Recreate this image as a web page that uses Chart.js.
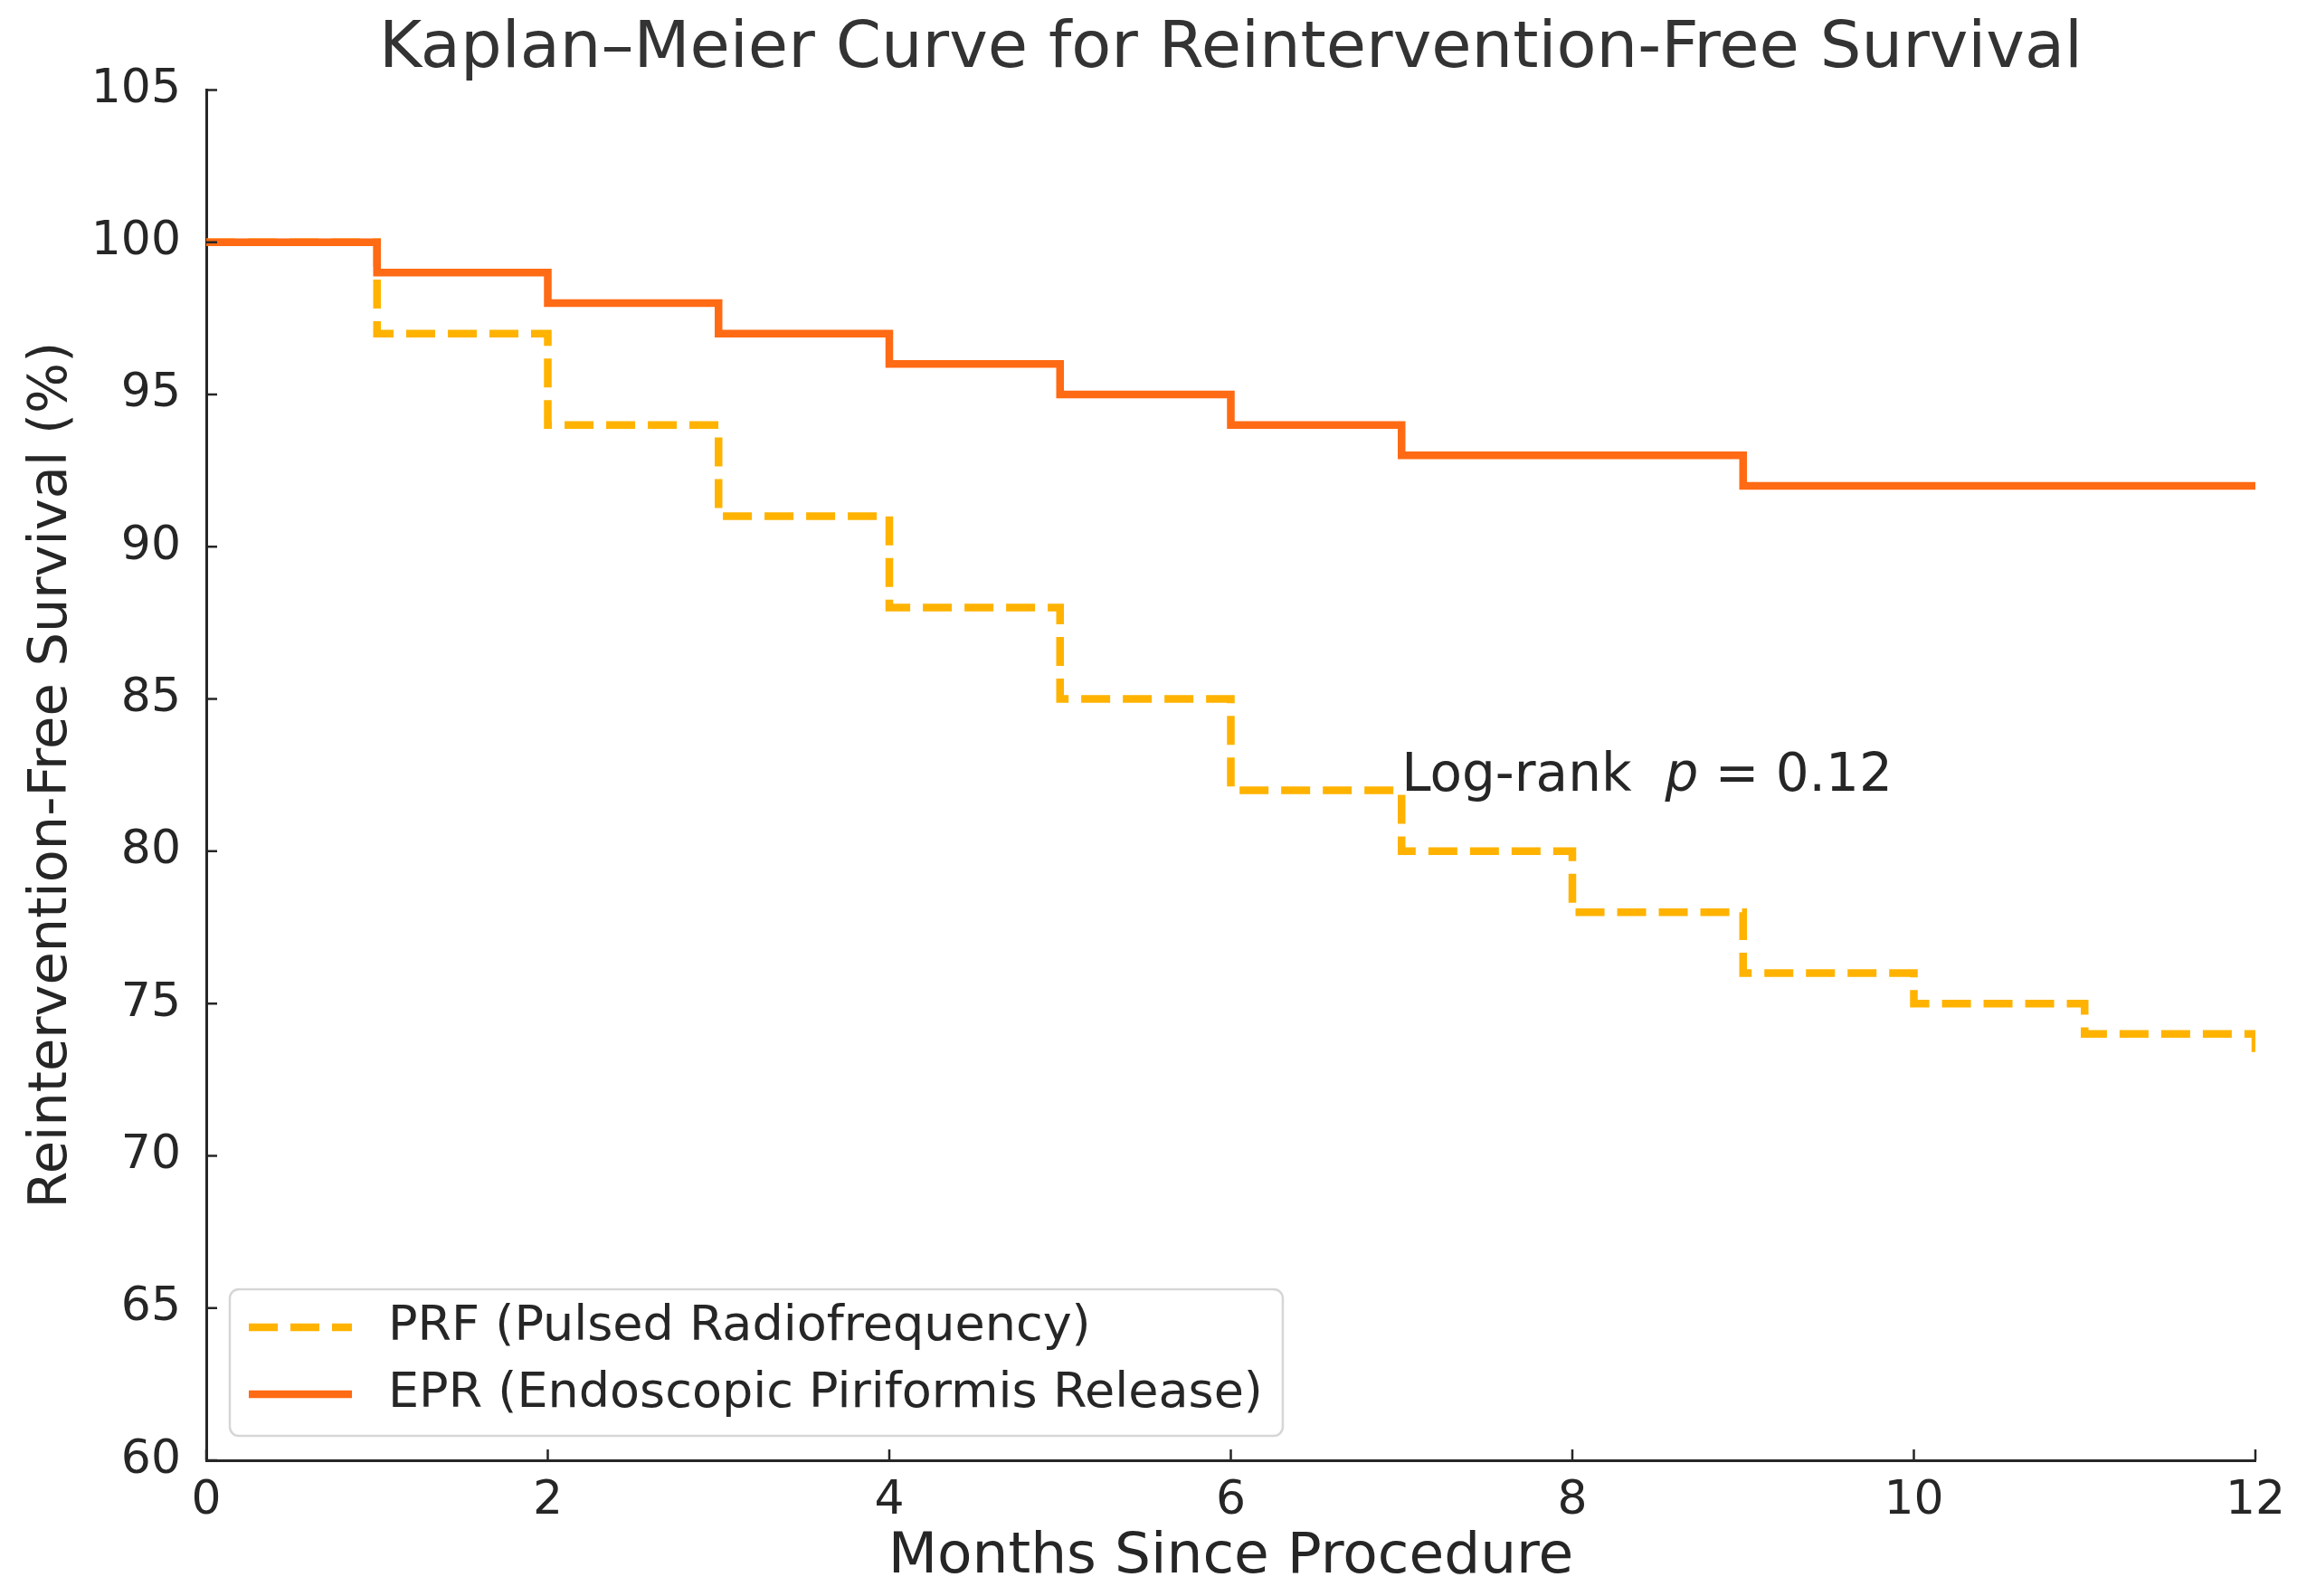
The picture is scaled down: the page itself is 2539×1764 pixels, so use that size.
<!DOCTYPE html>
<html lang="en">
<head>
    <meta charset="UTF-8">
    <title>Kaplan–Meier Curve for Reintervention-Free Survival</title>
    <style>
        html, body {
            margin: 0;
            padding: 0;
            background-color: #ffffff;
        }
        #kmChart {
            display: block;
        }
    </style>
</head>
<body>
    <canvas id="kmChart" width="2539" height="1764"></canvas>
    <script src="https://cdn.jsdelivr.net/npm/chart.js"></script>
    <script>
        // values
        const months = [0, 1, 2, 3, 4, 5, 6, 7, 8, 9, 10, 11, 12];
        const prfSurvival = [100, 97, 94, 91, 88, 85, 82, 80, 78, 76, 75, 74, 73];
        const eprSurvival = [100, 99, 98, 97, 96, 95, 94, 93, 93, 92, 92, 92, 92];
        const xTickValues = [0, 2, 4, 6, 8, 10, 12];
        const yTickValues = [60, 65, 70, 75, 80, 85, 90, 95, 100, 105];
        const prfLabel = 'PRF (Pulsed Radiofrequency)';
        const eprLabel = 'EPR (Endoscopic Piriformis Release)';
        const logRankMonth = 7;
        const logRankSurvival = 82;
        const logRankP = '0.12';

        const FONT = 'DejaVu Sans';
        const TEXT = '#262626';
        const PRF_COLOR = '#ffb300';
        const EPR_COLOR = '#ff6a14';

        function toPoints(ys) {
            return months.map((m, i) => ({ x: m, y: ys[i] }));
        }

        // matplotlib style ticks pointing into the plot
        const inwardTicks = {
            id: 'inwardTicks',
            afterDatasetsDraw(chart) {
                const { ctx, chartArea, scales } = chart;
                ctx.save();
                ctx.strokeStyle = TEXT;
                ctx.lineWidth = 2.5;
                ctx.beginPath();
                xTickValues.forEach(v => {
                    const px = scales.x.getPixelForValue(v);
                    ctx.moveTo(px, chartArea.bottom);
                    ctx.lineTo(px, chartArea.bottom - 12);
                });
                yTickValues.forEach(v => {
                    const py = scales.y.getPixelForValue(v);
                    ctx.moveTo(chartArea.left, py);
                    ctx.lineTo(chartArea.left + 12, py);
                });
                ctx.stroke();
                ctx.restore();
            }
        };

        const logRankText = {
            id: 'logRankText',
            afterDatasetsDraw(chart) {
                const { ctx, scales } = chart;
                let x = scales.x.getPixelForValue(logRankMonth);
                const y = scales.y.getPixelForValue(logRankSurvival);
                ctx.save();
                ctx.fillStyle = TEXT;
                ctx.textBaseline = 'alphabetic';
                ctx.textAlign = 'left';
                ctx.font = `58px "${FONT}"`;
                const first = 'Log-rank  ';
                ctx.fillText(first, x, y);
                x += ctx.measureText(first).width;
                ctx.font = `oblique 58px "${FONT}"`;
                ctx.fillText('p', x, y);
                x += ctx.measureText('p').width;
                ctx.font = `58px "${FONT}"`;
                ctx.fillText(' = ' + logRankP, x, y);
                ctx.restore();
            }
        };

        // legend box in the lower left corner of the axes
        const cornerLegend = {
            id: 'cornerLegend',
            afterDraw(chart) {
                const { ctx, chartArea } = chart;
                const items = [
                    { label: prfLabel, color: PRF_COLOR, dash: [32, 14] },
                    { label: eprLabel, color: EPR_COLOR, dash: [] }
                ];
                ctx.save();
                ctx.font = `54px "${FONT}"`;
                const textW = Math.max(...items.map(it => ctx.measureText(it.label).width));
                const left = chartArea.left + 26;
                const width = 175 + textW + 22;
                const height = 162;
                const top = chartArea.bottom - 27 - height;

                ctx.beginPath();
                ctx.roundRect(left, top, width, height, 10);
                ctx.fillStyle = 'rgba(255, 255, 255, 0.8)';
                ctx.fill();
                ctx.strokeStyle = '#d6d6d6';
                ctx.lineWidth = 2.5;
                ctx.stroke();

                items.forEach((it, i) => {
                    const cy = top + 42 + i * 74;
                    ctx.beginPath();
                    ctx.setLineDash(it.dash);
                    ctx.strokeStyle = it.color;
                    ctx.lineWidth = 8.5;
                    ctx.moveTo(left + 21, cy);
                    ctx.lineTo(left + 135, cy);
                    ctx.stroke();
                    ctx.setLineDash([]);
                    ctx.fillStyle = TEXT;
                    ctx.textBaseline = 'middle';
                    ctx.textAlign = 'left';
                    ctx.fillText(it.label, left + 175, cy);
                });
                ctx.restore();
            }
        };

        const ctx = document.getElementById('kmChart').getContext('2d');
        const kmChart = new Chart(ctx, {
            type: 'line',
            data: {
                datasets: [
                    {
                        // lowest order is drawn on top
                        label: eprLabel,
                        order: 1,
                        data: toPoints(eprSurvival),
                        borderColor: EPR_COLOR,
                        borderWidth: 8.5,
                        stepped: 'before',
                        pointRadius: 0,
                        fill: false
                    },
                    {
                        label: prfLabel,
                        order: 2,
                        data: toPoints(prfSurvival),
                        borderColor: PRF_COLOR,
                        borderWidth: 8.5,
                        borderDash: [32, 14],
                        stepped: 'before',
                        pointRadius: 0,
                        fill: false
                    }
                ]
            },
            options: {
                responsive: false,
                animation: false,
                devicePixelRatio: 1,
                layout: {
                    padding: { left: 0, right: 46, top: 0, bottom: 0 }
                },
                plugins: {
                    legend: { display: false },
                    tooltip: { enabled: false },
                    title: {
                        display: true,
                        fullSize: false,
                        text: 'Kaplan–Meier Curve for Reintervention-Free Survival',
                        color: '#333333',
                        font: { family: FONT, size: 72, weight: 'normal' },
                        padding: { top: 12, bottom: 1 }
                    }
                },
                scales: {
                    x: {
                        type: 'linear',
                        min: 0,
                        max: 12,
                        afterBuildTicks: scale => {
                            scale.ticks = xTickValues.map(v => ({ value: v }));
                        },
                        afterFit: scale => {
                            scale.height = 150;
                        },
                        grid: { display: false },
                        border: { display: true, color: TEXT, width: 3 },
                        ticks: {
                            color: TEXT,
                            padding: 6,
                            maxRotation: 0,
                            font: { family: FONT, size: 52 }
                        },
                        title: {
                            display: true,
                            text: 'Months Since Procedure',
                            color: TEXT,
                            font: { family: FONT, size: 63 },
                            padding: { top: 0, bottom: 5 }
                        }
                    },
                    y: {
                        min: 60,
                        max: 105,
                        afterBuildTicks: scale => {
                            scale.ticks = yTickValues.map(v => ({ value: v }));
                        },
                        afterFit: scale => {
                            scale.width = 228;
                        },
                        grid: { display: false },
                        border: { display: true, color: TEXT, width: 3 },
                        ticks: {
                            color: TEXT,
                            padding: 20,
                            font: { family: FONT, size: 52 }
                        },
                        title: {
                            display: true,
                            text: 'Reintervention-Free Survival (%)',
                            color: TEXT,
                            font: { family: FONT, size: 59 },
                            padding: { top: 22, bottom: 0 }
                        }
                    }
                }
            },
            plugins: [inwardTicks, logRankText, cornerLegend]
        });
    </script>
</body>
</html>
